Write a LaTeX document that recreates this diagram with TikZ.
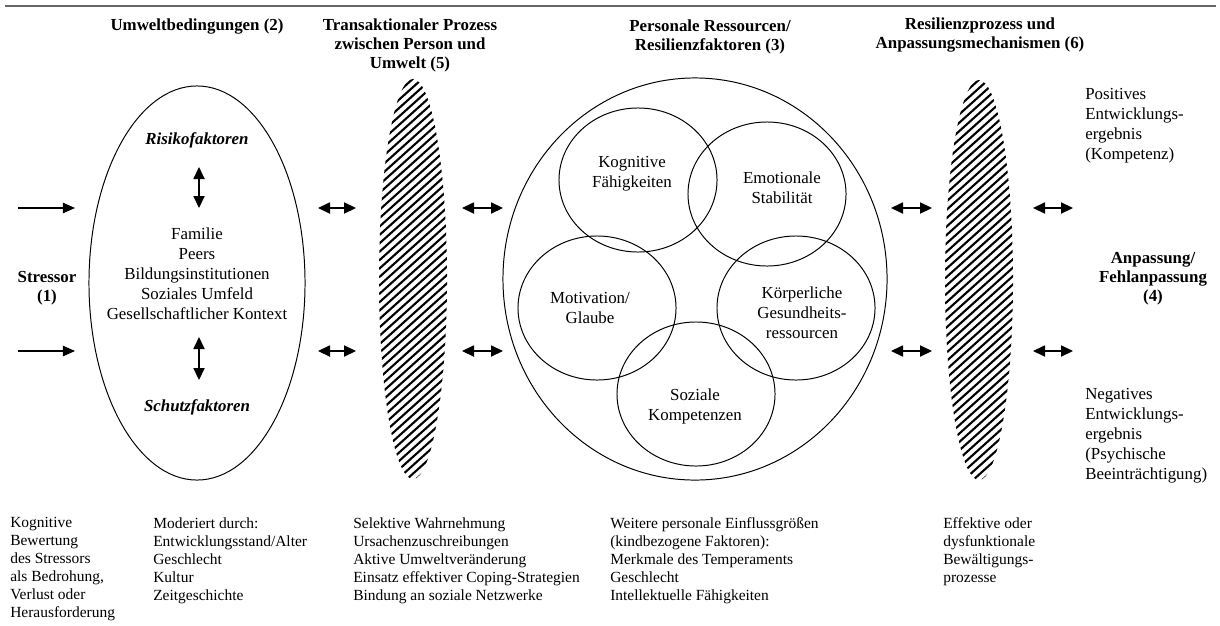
\documentclass[tikz,border=0pt]{standalone}
\usepackage{fontspec}
\setmainfont{Liberation Serif}
\usetikzlibrary{shapes.geometric,arrows.meta}

\begin{document}
\begin{tikzpicture}[
    x=0.025cm, y=-0.025cm,
    head/.style={font=\fontsize{12}{13.5}\selectfont\bfseries, align=center, inner sep=0pt},
    txt/.style={font=\fontsize{12}{14.2}\selectfont, align=center, inner sep=0pt},
    side/.style={txt, align=left, anchor=north west},
    note/.style={font=\fontsize{11}{12.8}\selectfont, align=left, anchor=north west, inner sep=0pt},
    factor/.style={font=\fontsize{12}{14.2}\selectfont\bfseries\itshape, inner sep=0pt},
    ring/.style={draw, ellipse, line width=0.7pt, inner sep=0pt},
    circ/.style={ring, minimum width=3.95cm, minimum height=3.6cm},
    hatched/.style={ellipse, inner sep=0pt, minimum width=1.7cm, minimum height=10cm,
        path picture={\foreach \k in {-9,...,49}
            \draw[line width=1.5pt] ([yshift=\k*0.21cm]path picture bounding box.south west) -- ++(42:3cm);}},
    arrow/.style={-{Triangle[length=3mm, width=2.6mm]}, line width=0.8pt},
    dblarrow/.style={{Triangle[length=3mm, width=2.8mm]}-{Triangle[length=3mm, width=2.8mm]}, line width=0.8pt}
]
\useasboundingbox (0,0) rectangle (1220,625);
\draw[line width=1pt, black!60] (5,6) -- (1216,6);

\node[head] (h2) at (197,27) {Umweltbedingungen (2)};
\node[head] (h5) at (410,45) {Transaktionaler Prozess\\zwischen Person und\\Umwelt (5)};
\node[head] (h3) at (710,37) {Personale Ressourcen/\\Resilienzfaktoren (3)};
\node[head] (h6) at (980,35) {Resilienzprozess und\\Anpassungsmechanismen (6)};

\node[head] (stressor) at (47,288) {Stressor\\(1)};
\node[head] (anpassung) at (1153,279) {Anpassung/\\Fehlanpassung\\(4)};

\node[ring, minimum width=5.4cm, minimum height=9.85cm] (umwelt) at (197,283) {};
\node[factor] (risiko) at (197,140) {Risikofaktoren};
\node[txt] (kontext) at (197,274) {Familie\\Peers\\Bildungsinstitutionen\\Soziales Umfeld\\Gesellschaftlicher Kontext};
\node[factor] (schutz) at (197,407) {Schutzfaktoren};

\node[hatched] (trans) at (413,279) {};
\node[hatched] (resil) at (979,280) {};

\node[ring, minimum width=9.6cm, minimum height=10.05cm] (person) at (695,279) {};
\node[circ] (kog) at (638,180) {};
\node[circ] (emo) at (767,194) {};
\node[circ] (mot) at (597,308) {};
\node[circ] (koerper) at (796,308) {};
\node[circ] (soz) at (696,394) {};
\node[txt] (kogtxt) at (632,174) {Kognitive\\Fähigkeiten};
\node[txt] (emotxt) at (782,188) {Emotionale\\Stabilität};
\node[txt] (mottxt) at (590,308) {Motivation/\\Glaube};
\node[txt] (koerpertxt) at (802,313) {Körperliche\\Gesundheits-\\ressourcen};
\node[txt] (soztxt) at (695,406) {Soziale\\Kompetenzen};

\node[side] (positiv) at (1085,88) {Positives\\Entwicklungs-\\ergebnis\\(Kompetenz)};
\node[side] (negativ) at (1085,388) {Negatives\\Entwicklungs-\\ergebnis\\(Psychische\\Beeinträchtigung)};

\node[note] (bewertung) at (10,517) {Kognitive\\Bewertung\\des Stressors\\als Bedrohung,\\Verlust oder\\Herausforderung};
\node[note] (moderiert) at (153,517) {Moderiert durch:\\Entwicklungsstand/Alter\\Geschlecht\\Kultur\\Zeitgeschichte};
\node[note] (prozess) at (353,517) {Selektive Wahrnehmung\\Ursachenzuschreibungen\\Aktive Umweltveränderung\\Einsatz effektiver Coping-Strategien\\Bindung an soziale Netzwerke};
\node[note] (einfluss) at (610,517) {Weitere personale Einflussgrößen\\(kindbezogene Faktoren):\\Merkmale des Temperaments\\Geschlecht\\Intellektuelle Fähigkeiten};
\node[note] (bewaeltigung) at (943,517) {Effektive oder\\dysfunktionale\\Bewältigungs-\\prozesse};

\coordinate (st1a) at (18,208);
\coordinate (st1b) at (75,208);
\coordinate (st2a) at (18,351);
\coordinate (st2b) at (75,351);
\coordinate (ra) at (199,167);
\coordinate (rb) at (199,208);
\coordinate (sa) at (199,337);
\coordinate (sb) at (199,380);
\coordinate (a1) at (318,208);
\coordinate (a2) at (356,208);
\coordinate (a3) at (318,351);
\coordinate (a4) at (356,351);
\coordinate (b1) at (462,208);
\coordinate (b2) at (503,208);
\coordinate (b3) at (462,351);
\coordinate (b4) at (503,351);
\coordinate (c1) at (891,208);
\coordinate (c2) at (932,208);
\coordinate (c3) at (891,351);
\coordinate (c4) at (932,351);
\coordinate (d1) at (1033,208);
\coordinate (d2) at (1073,208);
\coordinate (d3) at (1033,351);
\coordinate (d4) at (1073,351);

\draw[arrow] (st1a) -- (st1b);
\draw[arrow] (st2a) -- (st2b);
\draw[dblarrow] (ra) -- (rb);
\draw[dblarrow] (sa) -- (sb);
\draw[dblarrow] (a1) -- (a2);
\draw[dblarrow] (a3) -- (a4);
\draw[dblarrow] (b1) -- (b2);
\draw[dblarrow] (b3) -- (b4);
\draw[dblarrow] (c1) -- (c2);
\draw[dblarrow] (c3) -- (c4);
\draw[dblarrow] (d1) -- (d2);
\draw[dblarrow] (d3) -- (d4);
\end{tikzpicture}
\end{document}
